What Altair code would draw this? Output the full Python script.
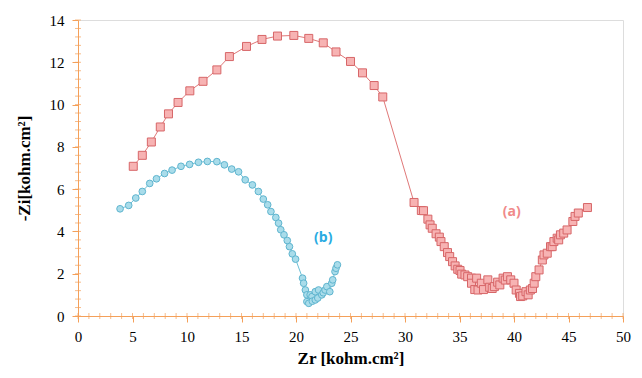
import altair as alt
import pandas as pd

# Series (a) - red squares
a_x = [5.07, 5.9, 6.73, 7.55, 8.3, 9.18, 10.26, 11.47, 12.74, 13.89, 15.46, 16.88, 18.3, 19.8,
       21.17, 22.5, 23.67, 25.0, 26.1, 27.17, 27.96, 30.83, 31.5, 31.7, 32.1, 32.3, 32.5, 32.85,
       33.15, 33.3, 33.6, 33.9, 34.1, 34.36, 34.6, 34.84, 35.05, 35.2, 35.5, 35.75, 36.1, 36.1,
       36.4, 36.57, 36.7, 37.0, 37.2, 37.6, 37.77, 38.0, 38.2, 38.5, 38.7, 39.0, 39.2, 39.4, 39.7,
       40.0, 40.2, 40.5, 40.6, 40.8, 41.1, 41.3, 41.5, 41.7, 41.85, 42.0, 42.3, 42.6, 42.75, 43.05,
       43.35, 43.5, 43.66, 43.96, 44.1, 44.26, 44.56, 44.87, 45.4, 45.6, 45.9, 46.74]
a_y = [7.08, 7.6, 8.23, 8.94, 9.56, 10.1, 10.65, 11.1, 11.64, 12.27, 12.75, 13.08, 13.24, 13.27,
       13.13, 12.92, 12.49, 12.04, 11.5, 10.9, 10.36, 5.37, 4.99, 4.98, 4.58, 4.31, 4.15, 3.89,
       3.73, 3.52, 3.28, 3.0, 2.81, 2.57, 2.37, 2.21, 2.15, 1.98, 1.94, 1.86, 1.79, 1.55,
       1.25, 1.79, 1.23, 1.55, 1.25, 1.71, 1.36, 1.3, 1.39, 1.6, 1.47, 1.79, 1.7, 1.86, 1.71,
       1.55, 1.23, 1.07, 0.92, 0.95, 1.15, 1.0, 1.23, 1.3, 1.55, 1.86, 2.18, 2.65, 2.89, 2.97,
       3.28, 3.28, 3.52, 3.68, 3.6, 3.84, 3.92, 4.07, 4.47, 4.71, 4.87, 5.13]

# Series (b) - blue circles
b_x = [3.86, 4.65, 5.3, 5.9, 6.58, 7.2, 7.94, 8.63, 9.45, 10.24, 11.05, 11.87, 12.74, 13.43,
       14.1, 14.73, 15.34, 16.0, 16.55, 17.0, 17.4, 17.7, 18.15, 18.4, 18.6, 18.9, 19.2, 19.4,
       19.66, 19.96, 20.6, 20.7, 20.86, 21.0, 21.0, 21.17, 21.3, 21.47, 21.5, 21.77, 21.77, 22.0,
       22.07, 22.37, 22.5, 22.67, 22.83, 23.1, 23.28, 23.37, 23.58, 23.67, 23.8]
b_y = [5.07, 5.23, 5.58, 5.89, 6.27, 6.49, 6.74, 6.9, 7.08, 7.17, 7.27, 7.31, 7.3, 7.15,
       6.95, 6.82, 6.44, 6.2, 5.89, 5.53, 5.26, 4.94, 4.66, 4.39, 4.08, 3.84, 3.57, 3.28,
       2.94, 2.69, 1.79, 1.55, 1.23, 1.0, 0.68, 0.6, 1.0, 0.92, 0.7, 0.76, 1.15, 0.85,
       1.23, 1.0, 1.1, 1.23, 1.39, 1.15, 1.55, 1.71, 2.1, 2.26, 2.42]

labels = ["(a)", "(b)"]
label_x = [39.8, 22.5]
label_y = [4.93, 3.7]

x_major = list(range(0, 51, 5))
y_major = list(range(0, 15, 2))
x_minor = list(range(0, 51))
y_minor = [round(i * 0.4, 1) for i in range(0, 36)]

df_a = pd.DataFrame({"x": a_x, "y": a_y, "o": range(len(a_x))})
df_b = pd.DataFrame({"x": b_x, "y": b_y, "o": range(len(b_x))})
df_l = pd.DataFrame({"t": labels, "x": label_x, "y": label_y, "s": ["a", "b"]})
df_xm = pd.DataFrame({"x": x_minor})
df_ym = pd.DataFrame({"y": y_minor})

axis_color = "#f4a05a"
serif = "Liberation Serif"
xscale = alt.Scale(domain=[0, 50], nice=False, zero=False)
yscale = alt.Scale(domain=[0, 14], nice=False, zero=False)

xaxis = alt.Axis(
    values=x_major,
    title="Zr [kohm.cm²]",
    titlePadding=6,
    labelPadding=7,
    domainColor=axis_color, tickColor=axis_color, grid=False, tickSize=6,
    labelFlush=False, labelOverlap=False,
)
yaxis = alt.Axis(
    values=y_major,
    title="-Zi[kohm.cm²]",
    titlePadding=16,
    labelPadding=8,
    domainColor=axis_color, tickColor=axis_color, grid=False, tickSize=6,
    labelFlush=False, labelOverlap=False,
)

line_a = alt.Chart(df_a).mark_line(color="#e07878", strokeWidth=1).encode(
    x=alt.X("x:Q", scale=xscale, axis=xaxis),
    y=alt.Y("y:Q", scale=yscale, axis=yaxis),
    order="o:Q",
)
pts_a = alt.Chart(df_a).mark_point(
    shape="square", filled=True, fill="#f7b3b3", stroke="#d76668", strokeWidth=1, size=64, opacity=1
).encode(x="x:Q", y="y:Q")

line_b = alt.Chart(df_b).mark_line(color="#6cc0d6", strokeWidth=1).encode(
    x="x:Q", y="y:Q", order="o:Q"
)
pts_b = alt.Chart(df_b).mark_point(
    shape="circle", filled=True, fill="#a9dcea", stroke="#5fb5cf", strokeWidth=1, size=45, opacity=1
).encode(x="x:Q", y="y:Q")

xminor = alt.Chart(df_xm).mark_tick(orient="vertical", color=axis_color, size=6, thickness=1).encode(
    x="x:Q", y=alt.datum(0)
)
yminor = alt.Chart(df_ym).mark_tick(orient="horizontal", color=axis_color, size=6, thickness=1).encode(
    y="y:Q", x=alt.datum(0)
)

txt = alt.Chart(df_l).mark_text(font="Open Sans", fontSize=14, fontWeight="bold").encode(
    x="x:Q", y="y:Q", text="t:N",
    color=alt.Color("s:N", scale=alt.Scale(domain=["a", "b"], range=["#f08a8a", "#29abe2"]), legend=None),
)

chart = alt.layer(xminor, yminor, line_a, pts_a, line_b, pts_b, txt).properties(
    width=545, height=296,
    autosize=alt.AutoSizeParams(type="none"),
    padding={"left": 70, "top": 12, "right": 11, "bottom": 54},
).configure_view(stroke=None).configure(background="white").configure_axis(
    labelFont=serif, labelFontSize=15, labelColor="#000",
    titleFont=serif, titleFontSize=17, titleFontWeight="bold", titleColor="#000",
)

chart.save("out.html", embed_options={"renderer": "svg", "actions": False})
